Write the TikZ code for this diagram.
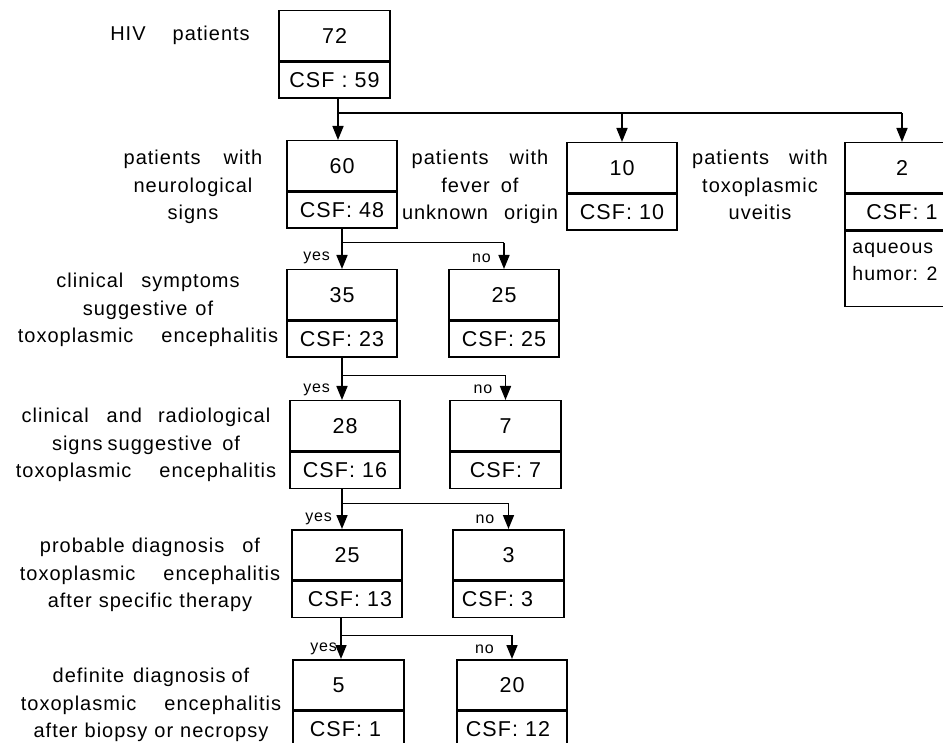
\documentclass[tikz,border=0pt]{standalone}
\usepackage{fontspec}
\setmainfont{Liberation Sans}[LetterSpace=5]
\usetikzlibrary{arrows.meta,calc}
\newcommand{\wsp}[1]{\hspace*{#1pt}}
\begin{document}
\begin{tikzpicture}[x=1pt,y=-1pt,
  box/.style={draw, line width=1.5pt, inner sep=0pt, anchor=north, font=\fontsize{21.5}{24}\selectfont},
  num/.style={box, minimum height=50pt},
  csf/.style={box, minimum height=36pt},
  lbl/.style={align=center, inner sep=0pt, font=\fontsize{20}{27.5}\selectfont},
  yn/.style={inner sep=0pt, font=\fontsize{16}{18}\selectfont, anchor=base east},
  arr/.style={line width=1.6pt, -{Triangle[length=14pt,width=11pt]}},
  hl/.style={line width=1pt}]
\useasboundingbox (0,0) rectangle (943,743);
\clip (0,0) rectangle (943,743);

% boxes
\node[num, minimum width=111pt] (n72) at (334.5,10) {72};
\node[csf, minimum width=111pt] (c72) at (n72.south) {CSF : 59};

\node[num, minimum width=110pt] (n60) at (342,140) {60};
\node[csf, minimum width=110pt] (c60) at (n60.south) {CSF: 48};

\node[num, minimum width=110pt] (n10) at (622,142) {10};
\node[csf, minimum width=110pt] (c10) at (n10.south) {CSF: 10};

\node[num, minimum width=114pt] (n2) at (902,142) {2};
\node[csf, minimum width=114pt] (c2) at (n2.south) {CSF: 1};
\node[box, minimum width=114pt, minimum height=75pt] (a2) at (c2.south) {};
\node[anchor=north west, inner sep=0pt, align=left, font=\fontsize{19.5}{27}\selectfont] (t2) at ($(a2.north west)+(8,12)$) {aqueous\\humor: 2};

\node[num, minimum width=110pt] (n35) at (342,269) {35};
\node[csf, minimum width=110pt] (c35) at (n35.south) {CSF: 23};
\node[num, minimum width=110pt] (n25a) at (504,269) {25};
\node[csf, minimum width=110pt] (c25a) at (n25a.south) {CSF: 25};

\node[num, minimum width=110pt] (n28) at (345,400) {28};
\node[csf, minimum width=110pt] (c28) at (n28.south) {CSF: 16};
\node[num, minimum width=111pt] (n7) at (505.5,400) {7};
\node[csf, minimum width=111pt] (c7) at (n7.south) {CSF: 7};

\node[num, minimum width=110pt] (n25b) at (347,529) {25};
\node[csf, minimum width=110pt] (c25b) at (n25b.south) {\hspace*{6pt}CSF: 13};
\node[num, minimum width=111pt] (n3) at (508.5,529) {3};
\node[csf, minimum width=111pt] (c3) at (n3.south) {CSF: 3\hspace*{22pt}};

\node[num, minimum width=111pt] (n5) at (348.5,659) {5\hspace*{20pt}};
\node[csf, minimum width=111pt] (c5) at (n5.south) {CSF: 1\hspace*{6pt}};
\node[num, minimum width=110pt] (n20) at (512,659) {20};
\node[csf, minimum width=110pt] (c20) at (n20.south) {CSF: 12\hspace*{8pt}};

% labels
\node[lbl] (lhiv) at (180,35) {HIV\wsp{27}patients};
\node[lbl] (lneuro) at (193,187) {patients\wsp{23}with\\neurological\\signs};
\node[lbl] (lfever) at (480,187) {patients\wsp{21}with\\fever\wsp{11}of\\unknown\wsp{16}origin};
\node[lbl] (luv) at (760,185) {patients\wsp{20}with\\toxoplasmic\\uveitis};
\node[lbl] (lclin) at (148,310) {clinical\wsp{18}symptoms\\suggestive\wsp{8}of\\toxoplasmic\wsp{28}encephalitis};
\node[lbl] (lrad) at (146,445) {clinical\wsp{18}and\wsp{16}radiological\\signs\wsp{5}suggestive\wsp{10}of\\toxoplasmic\wsp{28}encephalitis};
\node[lbl] (lprob) at (150,575) {probable\wsp{7}diagnosis\wsp{18}of\\toxoplasmic\wsp{28}encephalitis\\after\wsp{7}specific\wsp{7}therapy};
\node[lbl] (ldef) at (151,705) {definite\wsp{9}diagnosis\wsp{6}of\\toxoplasmic\wsp{28}encephalitis\\after\wsp{7}biopsy\wsp{7}or\wsp{7}necropsy};

% top level connectors
\coordinate (j0) at (338,113);
\draw[arr] (j0 |- c72.south) -- (j0 |- n60.north);
\draw[line width=1.6pt] (j0) -- (j0 -| n2.north);
\draw[arr] (j0 -| n10.north) -- (n10.north);
\draw[arr] (j0 -| n2.north) -- (n2.north);

% level 2
\coordinate (j1) at (342,243);
\draw[arr] (c60.south) -- (c60.south |- n35.north);
\draw[hl] (j1) -- (j1 -| n25a.north);
\draw[arr] (j1 -| n25a.north) -- (n25a.north);
\node[yn] (y1) at ($(n35.north)+(-12,-8)$) {yes};
\node[yn] (o1) at ($(n25a.north)+(-13,-6)$) {no};

% level 3
\coordinate (j2) at (342,376);
\draw[arr] (c35.south) -- (c35.south |- n28.north);
\draw[hl] (j2) -- (j2 -| n7.north);
\draw[arr] (j2 -| n7.north) -- (n7.north);
\node[yn] (y2) at ($(c35.south |- n28.north)+(-12,-8)$) {yes};
\node[yn] (o2) at ($(n7.north)+(-13,-6)$) {no};

% level 4
\coordinate (j3) at (342,503);
\draw[arr] (c28.south -| j3) -- (j3 |- n25b.north);
\draw[hl] (j3) -- (j3 -| n3.north);
\draw[arr] (j3 -| n3.north) -- (n3.north);
\node[yn] (y3) at ($(j3 |- n25b.north)+(-10,-8)$) {yes};
\node[yn] (o3) at ($(n3.north)+(-14,-6)$) {no};

% level 5
\coordinate (j4) at (341,635);
\draw[arr] (c25b.south -| j4) -- (j4 |- n5.north);
\draw[hl] (j4) -- (j4 -| n20.north);
\draw[arr] (j4 -| n20.north) -- (n20.north);
\node[yn] (y4) at ($(j4 |- n5.north)+(-4,-8)$) {yes};
\node[yn] (o4) at ($(n20.north)+(-18,-6)$) {no};
\end{tikzpicture}
\end{document}
